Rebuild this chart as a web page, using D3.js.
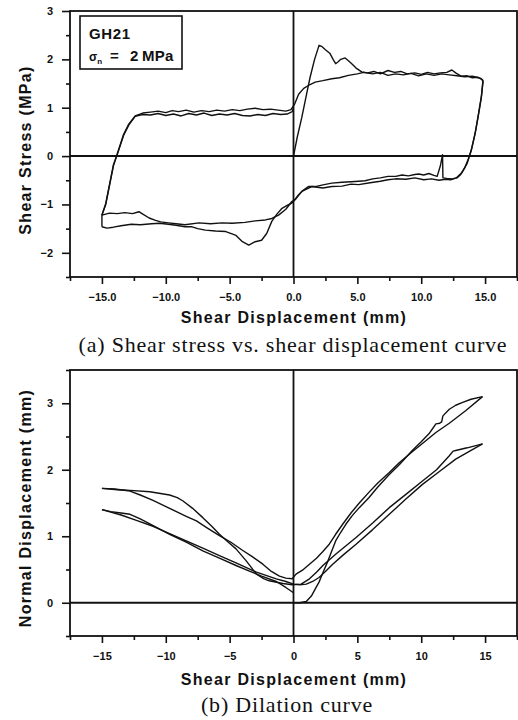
<!DOCTYPE html>
<html>
<head>
<meta charset="utf-8">
<script src="https://cdn.jsdelivr.net/npm/d3@7"></script>
<style>
  html, body { margin: 0; padding: 0; background: #fff; }
  svg { display: block; }
  .tick text { font-family: "Liberation Sans", Arial, sans-serif; font-weight: bold; font-size: 11px; fill: #111; }
  .tick line { stroke: #111; stroke-width: 1.6px; }
</style>
</head>
<body>
<svg id="fig" width="518" height="720"></svg>
<script>
// ---- (a) shear stress (MPa) vs shear displacement (mm), [x, y] pairs in test order ----
const stressLoad1 = [[0,0],[0.3,0.4],[0.65,0.8],[1.0,1.25],[1.3,1.63],[1.65,2.0],[2.0,2.29],[2.2,2.27],[2.5,2.2],[2.86,2.12],[3.1,2.0],[3.3,1.91],[3.5,1.95],[3.7,2.0],[4.04,2.03],[4.3,1.97],[4.56,1.91],[4.9,1.82],[5.34,1.74],[5.8,1.72],[6.3,1.75],[6.8,1.7],[7.4,1.77],[7.9,1.73],[8.4,1.75],[8.9,1.7],[9.5,1.72],[10.0,1.69],[10.5,1.73],[11.0,1.7],[11.5,1.72],[12.0,1.73],[12.4,1.78],[12.7,1.72],[13.15,1.65],[13.6,1.66],[14.0,1.62],[14.4,1.63],[14.7,1.6],[14.84,1.55]];
const stressUnload1 = [[14.84,1.55],[14.7,1.2],[14.45,0.8],[14.2,0.45],[13.9,0.1],[13.6,-0.15],[13.15,-0.35],[12.76,-0.45],[12.3,-0.49],[11.9,-0.48],[11.4,-0.5],[10.8,-0.47],[10.2,-0.49],[9.5,-0.45],[8.8,-0.48],[8.0,-0.47],[7.4,-0.49],[6.8,-0.52],[6.0,-0.55],[5.1,-0.59],[4.5,-0.58],[3.8,-0.62],[3.0,-0.63],[2.3,-0.66],[1.43,-0.63],[0.65,-0.73],[0.2,-0.88],[-0.13,-0.97],[-0.5,-1.02],[-0.9,-1.08],[-1.3,-1.2],[-1.7,-1.35],[-2.1,-1.6],[-2.5,-1.74],[-3.0,-1.77],[-3.5,-1.84],[-4.0,-1.77],[-4.5,-1.64],[-5.3,-1.56],[-6.1,-1.55],[-6.9,-1.53],[-7.5,-1.5],[-8.0,-1.46],[-8.5,-1.46],[-9.2,-1.43],[-9.8,-1.41],[-10.5,-1.39],[-11.1,-1.4],[-12.0,-1.42],[-12.7,-1.41],[-13.5,-1.44],[-14.1,-1.47],[-14.6,-1.49],[-15.0,-1.46]];
const stressLoad2 = [[-15.0,-1.46],[-15.0,-1.22],[-14.7,-1.0],[-14.4,-0.6],[-14.1,-0.2],[-13.8,0.05],[-13.3,0.45],[-12.9,0.66],[-12.4,0.83],[-11.8,0.89],[-11.2,0.91],[-10.6,0.93],[-10.0,0.9],[-9.5,0.94],[-9.0,0.92],[-8.4,0.95],[-7.8,0.91],[-7.2,0.94],[-6.6,0.92],[-6.0,0.95],[-5.4,0.93],[-4.8,0.96],[-4.2,0.94],[-3.6,0.97],[-3.0,0.99],[-2.4,0.96],[-1.8,0.97],[-1.2,0.95],[-0.6,0.93],[-0.2,0.96],[0.1,1.08],[0.4,1.28],[0.8,1.4],[1.3,1.48],[1.7,1.53],[2.3,1.56],[3.0,1.6],[3.6,1.62],[4.3,1.67],[5.0,1.7],[5.5,1.73],[6.2,1.7],[6.8,1.73],[7.4,1.67],[8.0,1.7],[8.6,1.68],[9.2,1.71],[9.8,1.66],[10.4,1.7],[11.0,1.67],[11.6,1.7],[12.2,1.68],[12.8,1.66],[13.4,1.64],[14.0,1.65],[14.5,1.62],[14.84,1.57]];
const stressUnload2 = [[14.84,1.57],[14.72,1.25],[14.5,0.9],[14.25,0.5],[13.95,0.15],[13.7,-0.05],[13.4,-0.25],[13.1,-0.38],[12.8,-0.45],[12.4,-0.47],[12.0,-0.46],[11.7,-0.45],[11.67,0.03],[11.5,-0.2],[11.25,-0.42],[11.0,-0.4],[10.6,-0.36],[10.2,-0.39],[9.8,-0.37],[9.5,-0.38],[9.0,-0.41],[8.5,-0.39],[8.0,-0.42],[7.4,-0.42],[6.8,-0.45],[6.2,-0.47],[5.6,-0.51],[5.1,-0.52],[4.5,-0.53],[3.8,-0.54],[3.0,-0.56],[2.4,-0.59],[1.7,-0.63],[1.17,-0.63],[0.7,-0.72],[0.4,-0.8],[0.1,-0.9],[-0.13,-0.94],[-0.6,-1.1],[-1.17,-1.22],[-1.7,-1.29],[-2.2,-1.32],[-3.0,-1.34],[-3.8,-1.37],[-4.8,-1.39],[-5.6,-1.38],[-6.5,-1.4],[-7.4,-1.38],[-8.5,-1.42],[-9.2,-1.4],[-9.8,-1.38],[-10.4,-1.36],[-10.8,-1.33],[-11.3,-1.28],[-11.8,-1.2],[-12.1,-1.15],[-12.6,-1.19],[-13.2,-1.17],[-13.8,-1.19],[-14.4,-1.18],[-15.0,-1.22]];
const stressLoad3 = [[-15.0,-1.22],[-14.7,-0.98],[-14.4,-0.58],[-14.1,-0.18],[-13.8,0.03],[-13.3,0.43],[-12.9,0.64],[-12.4,0.82],[-11.8,0.86],[-11.2,0.85],[-10.6,0.88],[-10.0,0.84],[-9.4,0.87],[-8.8,0.83],[-8.2,0.88],[-7.6,0.85],[-7.0,0.89],[-6.4,0.84],[-5.8,0.87],[-5.2,0.85],[-4.6,0.88],[-4.0,0.84],[-3.4,0.83],[-2.8,0.86],[-2.2,0.84],[-1.6,0.88],[-1.0,0.86],[-0.5,0.87],[-0.1,0.92],[0.0,1.0]];

// ---- (b) normal displacement (mm) vs shear displacement (mm) ----
const dilationLoad1 = [[0,0],[0.5,0],[1.0,0.02],[1.4,0.1],[1.77,0.23],[2.0,0.31],[2.3,0.45],[2.7,0.63],[3.3,0.93],[3.7,1.06],[4.1,1.18],[4.6,1.31],[5.15,1.43],[5.9,1.58],[6.6,1.74],[7.5,1.93],[8.3,2.08],[9.3,2.29],[10.0,2.42],[10.6,2.54],[10.9,2.62],[11.15,2.69],[11.45,2.7],[11.6,2.72],[11.7,2.81],[12.2,2.91],[12.7,2.97],[13.2,3.01],[13.9,3.06],[14.8,3.1]];
const dilationUnload1 = [[14.8,3.1],[13.5,2.89],[12.2,2.7],[11.15,2.56],[10.0,2.38],[9.3,2.27],[8.3,2.11],[7.5,1.96],[6.6,1.8],[5.9,1.66],[5.15,1.5],[4.5,1.35],[3.85,1.18],[3.3,1.03],[2.8,0.88],[2.3,0.77],[1.8,0.67],[1.25,0.58],[0.7,0.49],[0.2,0.43],[-0.1,0.36],[-0.6,0.37],[-1.1,0.4],[-1.8,0.48],[-2.4,0.58],[-3.2,0.69],[-4.0,0.79],[-4.9,0.91],[-5.8,1.01],[-6.8,1.13],[-7.6,1.23],[-8.4,1.3],[-9.7,1.42],[-11.0,1.54],[-12.0,1.62],[-12.8,1.68],[-14.0,1.71],[-15.0,1.72]];
const dilationLoad2 = [[-15.0,1.72],[-13.8,1.7],[-12.8,1.69],[-11.25,1.67],[-9.7,1.62],[-9.1,1.58],[-8.65,1.53],[-7.9,1.42],[-7.1,1.28],[-6.4,1.15],[-5.8,1.03],[-5.1,0.91],[-4.5,0.81],[-3.7,0.63],[-2.9,0.43],[-2.3,0.36],[-1.9,0.33],[-0.83,0.29],[-0.1,0.27],[0.6,0.28],[1.25,0.36],[1.8,0.46],[2.3,0.56],[3.3,0.73],[4.9,0.98],[6.2,1.2],[7.5,1.43],[8.8,1.63],[10.1,1.83],[11.2,2.0],[12.2,2.21],[12.5,2.28],[12.7,2.29],[13.6,2.33],[14.8,2.39]];
const dilationUnload2 = [[14.8,2.39],[13.8,2.28],[12.7,2.16],[11.4,1.97],[10.1,1.78],[8.8,1.56],[7.5,1.33],[6.2,1.1],[4.9,0.88],[3.9,0.72],[3.07,0.58],[2.5,0.47],[2.0,0.38],[1.5,0.32],[1.0,0.28],[0.5,0.27],[0.0,0.28],[-0.6,0.32],[-1.35,0.36],[-2.9,0.46],[-4.5,0.6],[-5.8,0.71],[-7.1,0.82],[-8.4,0.93],[-9.7,1.04],[-11.0,1.15],[-12.3,1.24],[-13.5,1.32],[-15.0,1.4]];
const dilationLoad3 = [[-15.0,1.4],[-14.3,1.37],[-13.5,1.35],[-12.8,1.33],[-12.0,1.26],[-10.8,1.14],[-9.7,1.03],[-8.4,0.91],[-7.1,0.78],[-5.8,0.67],[-4.5,0.56],[-3.5,0.48],[-2.5,0.4],[-1.35,0.32],[-0.6,0.23],[0.0,0.15]];

// ---- axis ticks and text ----
const xDomain = [-17.5, 17.5];
const xMajor = [-15, -10, -5, 0, 5, 10, 15];
const xMinor = [-17.5, -12.5, -7.5, -2.5, 2.5, 7.5, 12.5, 17.5];
const stressDomain = [-2.5, 3];
const stressMajor = [-2, -1, 0, 1, 2, 3];
const stressMinor = [-2.5, -1.5, -0.5, 0.5, 1.5, 2.5];
const dilationDomain = [-0.5, 3.5];
const dilationMajor = [0, 1, 2, 3];
const dilationMinor = [-0.5, 0.5, 1.5, 2.5, 3.5];
const titles = {
  xLabel: "Shear Displacement (mm)",
  stressLabel: "Shear Stress (MPa)",
  dilationLabel: "Normal Displacement (mm)",
  captionA: "(a) Shear stress vs. shear displacement curve",
  captionB: "(b) Dilation curve",
  specimen: "GH21"
};

const svg = d3.select("#fig");
const sans = '"Liberation Sans", Arial, Helvetica, sans-serif';
const serif = '"Liberation Serif", "Times New Roman", serif';

function panel(opt) {
  const { left, right, top, bottom } = opt.box;
  const x = d3.scaleLinear().domain(xDomain).range([left, right]);
  const y = d3.scaleLinear().domain(opt.yDomain).range([bottom, top]);
  const g = svg.append("g");

  // minor then major ticks, bottom and left, drawn outward
  g.append("g").attr("transform", `translate(0,${bottom})`)
    .call(d3.axisBottom(x).tickValues(xMinor).tickSize(4).tickFormat(""))
    .call(s => s.select(".domain").remove());
  g.append("g").attr("transform", `translate(0,${bottom})`)
    .call(d3.axisBottom(x).tickValues(xMajor).tickSize(7).tickPadding(9).tickFormat(opt.xFormat))
    .call(s => s.select(".domain").remove());
  g.append("g").attr("transform", `translate(${left},0)`)
    .call(d3.axisLeft(y).tickValues(opt.yMinor).tickSize(4).tickFormat(""))
    .call(s => s.select(".domain").remove());
  g.append("g").attr("transform", `translate(${left},0)`)
    .call(d3.axisLeft(y).tickValues(opt.yMajor).tickSize(8).tickPadding(9).tickFormat(d3.format("d")))
    .call(s => s.select(".domain").remove());

  // frame
  g.append("rect").attr("x", left).attr("y", top)
    .attr("width", right - left).attr("height", bottom - top)
    .attr("fill", "none").attr("stroke", "#111").attr("stroke-width", 1.8);

  // zero reference lines
  g.append("line").attr("x1", left).attr("x2", right).attr("y1", y(0)).attr("y2", y(0))
    .attr("stroke", "#111").attr("stroke-width", 2);
  g.append("line").attr("x1", x(0)).attr("x2", x(0)).attr("y1", top).attr("y2", bottom)
    .attr("stroke", "#111").attr("stroke-width", 1.8);

  // curves
  const line = d3.line().x(d => x(d[0])).y(d => y(d[1])).curve(d3.curveLinear);
  g.append("g").selectAll("path").data(opt.series).join("path")
    .attr("d", line).attr("fill", "none").attr("stroke", "#111")
    .attr("stroke-width", 1.4).attr("stroke-linejoin", "round");

  // axis titles
  g.append("text").attr("x", 294).attr("y", opt.xTitleY)
    .attr("text-anchor", "middle").attr("font-family", sans).attr("font-weight", "bold")
    .attr("font-size", 16).attr("letter-spacing", 1.3).attr("fill", "#111").text(titles.xLabel);
  g.append("text").attr("transform", `translate(${opt.yTitleX},${opt.yTitleMid}) rotate(-90)`)
    .attr("text-anchor", "middle").attr("font-family", sans).attr("font-weight", "bold")
    .attr("font-size", 16).attr("letter-spacing", 1.3).attr("fill", "#111").text(opt.yLabel);

  // caption
  g.append("text").attr("x", opt.captionX).attr("y", opt.captionY)
    .attr("text-anchor", "middle").attr("font-family", serif)
    .attr("font-size", 22).attr("letter-spacing", 0.8).attr("fill", "#111").text(opt.caption);

  return { x, y, g };
}

const a = panel({
  box: { left: 70, right: 517, top: 11, bottom: 277 },
  yDomain: stressDomain, yMajor: stressMajor, yMinor: stressMinor,
  xFormat: d3.format(".1f"),
  series: [stressLoad1, stressUnload1, stressLoad2, stressUnload2, stressLoad3],
  xTitleY: 323, yTitleX: 31, yTitleMid: 150, yLabel: titles.stressLabel,
  caption: titles.captionA, captionX: 293, captionY: 352
});

const b = panel({
  box: { left: 70, right: 517, top: 370, bottom: 636 },
  yDomain: dilationDomain, yMajor: dilationMajor, yMinor: dilationMinor,
  xFormat: d3.format("d"),
  series: [dilationLoad1, dilationUnload1, dilationLoad2, dilationUnload2, dilationLoad3],
  xTitleY: 685, yTitleX: 31, yTitleMid: 508, yLabel: titles.dilationLabel,
  caption: titles.captionB, captionX: 287, captionY: 712
});

// specimen / normal stress box inside panel (a)
const lg = a.g.append("g");
lg.append("rect").attr("x", 80).attr("y", 16).attr("width", 102).attr("height", 53)
  .attr("fill", "#fff").attr("stroke", "#111").attr("stroke-width", 1.6);
lg.append("text").attr("x", 89).attr("y", 39).attr("font-family", sans).attr("font-weight", "bold")
  .attr("font-size", 15).attr("letter-spacing", 0.6).attr("fill", "#111").text(titles.specimen);
const sig = lg.append("text").attr("y", 61).attr("font-family", sans)
  .attr("font-weight", "bold").attr("font-size", 15).attr("fill", "#111");
sig.append("tspan").attr("x", 89).attr("font-size", 12).text("σ");
sig.append("tspan").attr("font-size", 8).attr("dy", 3).text("n");
sig.append("tspan").attr("x", 110).attr("dy", -3).text("=");
sig.append("tspan").attr("x", 130).text("2");
sig.append("tspan").attr("x", 142).attr("letter-spacing", 0.3).text("MPa");
</script>
</body>
</html>
